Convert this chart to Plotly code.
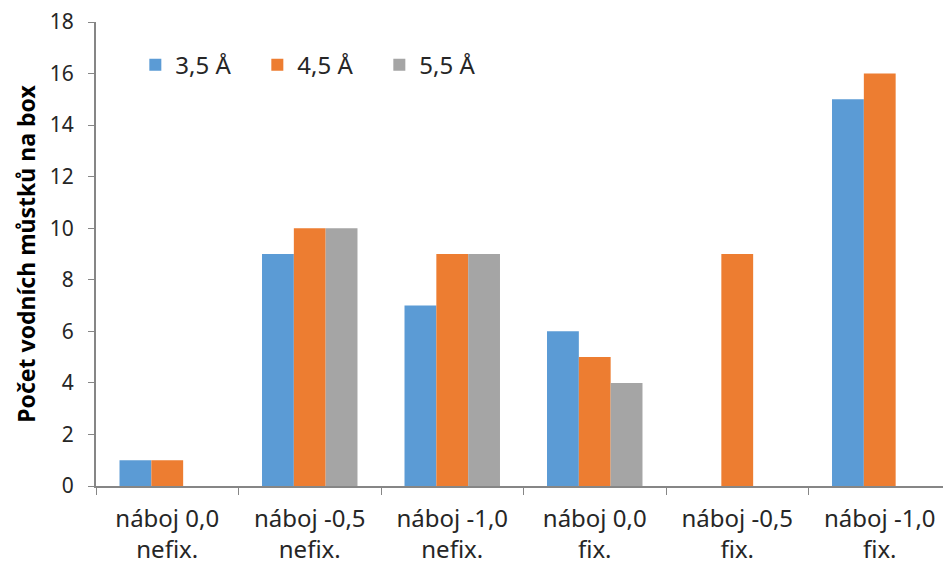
import plotly.graph_objects as go

categories = ["náboj 0,0<br>nefix.", "náboj -0,5<br>nefix.", "náboj -1,0<br>nefix.",
              "náboj 0,0<br>fix.", "náboj -0,5<br>fix.", "náboj -1,0<br>fix."]
series_names = ["3,5 Å", "4,5 Å", "5,5 Å"]
vals_35 = [1, 9, 7, 6, 0, 15]
vals_45 = [1, 10, 9, 5, 9, 16]
vals_55 = [0, 10, 9, 4, 0, 0]
colors = ["#5B9BD5", "#ED7D31", "#A5A5A5"]

fig = go.Figure()
for name, vals, col in zip(series_names, [vals_35, vals_45, vals_55], colors):
    fig.add_trace(go.Bar(x=categories, y=vals, name=name,
                         marker=dict(color=col, line=dict(width=0))))

# page body adds 8px margin, so the figure is a bit smaller
fig.update_layout(
    width=943, height=564,
    barmode="group", bargap=0.33, bargroupgap=0,
    plot_bgcolor="white", paper_bgcolor="white",
    font=dict(family="Noto Sans", size=21, color="#262626"),
    margin=dict(l=88, r=0, t=14, b=86),
    legend=dict(orientation="h", x=0.046, y=0.907, xanchor="left", yanchor="middle",
                font=dict(size=24, color="#262626"), bgcolor="rgba(0,0,0,0)",
                entrywidth=77, entrywidthmode="pixels", itemwidth=30),
)
fig.update_yaxes(range=[0, 18], dtick=2, showgrid=False, zeroline=False,
                 showline=True, linecolor="#868686", linewidth=2,
                 ticks="outside", ticklen=6, tickcolor="#868686", automargin=False,
                 tickfont=dict(size=21), ticklabeloverflow="allow", ticklabelstandoff=10,
                 title=dict(text="<b>Počet vodních můstků na box</b>",
                            font=dict(size=23, color="#000000"), standoff=8))
fig.update_xaxes(showgrid=False, showline=True, linecolor="#868686", linewidth=2,
                 ticks="outside", ticklen=7, tickcolor="#868686", tickson="boundaries",
                 automargin=False, tickfont=dict(size=24), ticklabelstandoff=10)

fig.write_html("out.html")
